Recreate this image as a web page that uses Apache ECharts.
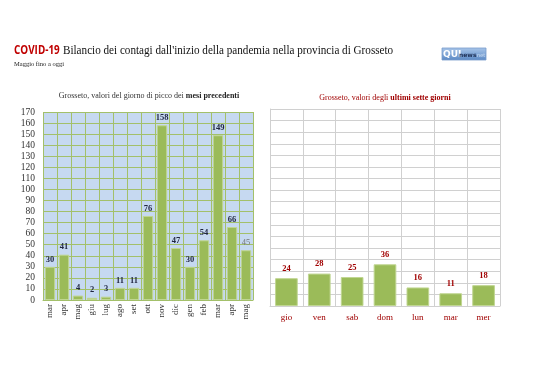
<!DOCTYPE html>
<html><head><meta charset="utf-8">
<script src="https://cdn.jsdelivr.net/npm/echarts@6/dist/echarts.min.js"></script>
<style>html,body{margin:0;padding:0;background:#fff}#c{width:538px;height:380px}</style>
</head><body><div id="c"></div>
<script>
const monthCats = ['mar','apr','mag','giu','lug','ago','set','ott','nov','dic','gen','feb','mar','apr','mag'];
const monthVals = [30,41,4,2,3,11,11,76,158,47,30,54,149,66,45];
const dayCats = ['gio','ven','sab','dom','lun','mar','mer'];
const dayVals = [24,28,25,36,16,11,18];
const yTicks = [0,10,20,30,40,50,60,70,80,90,100,110,120,130,140,150,160,170];

const SERIF = '"Liberation Serif","DejaVu Serif",serif';
const chart = echarts.init(document.getElementById('c'), null, {renderer:'canvas'});
const leftData = monthVals.map((v,i)=> i===monthVals.length-1
  ? {value:v, label:{color:'#777', fontWeight:'normal'}} : v);

chart.setOption({
  backgroundColor:'#fff',
  animation:false,
  graphic:[
    {type:'text', x:14, y:45, scaleX:0.86, style:{text:'COVID-19', font:'bold 11.5px "Open Sans", sans-serif', fill:'#c00000'}},
    {type:'text', x:63, y:43, scaleX:0.825, style:{text:"Bilancio dei contagi dall'inizio della pandemia nella provincia di Grosseto", font:'13.5px '+SERIF, fill:'#111'}},
    {type:'text', x:14, y:61, style:{text:'Maggio fino a oggi', font:'6.5px '+SERIF, fill:'#222'}},
    {type:'rect', z:10, shape:{x:442, y:48, width:44, height:12}, style:{fill:new echarts.graphic.LinearGradient(0,0,0,1,[{offset:0,color:'#a9c6ea'},{offset:1,color:'#5a88c4'}]), stroke:'#7a9ccb', lineWidth:0.8}},
    {type:'text', z:11, x:443, y:50, style:{text:'QUI', verticalAlign:'top', font:'bold 9px "DejaVu Sans", sans-serif', fill:'#fff'}},
    {type:'text', z:11, x:459, y:52, style:{text:'news', verticalAlign:'top', font:'bold 6px "DejaVu Sans", sans-serif', fill:'#1d2f55'}},
    {type:'text', z:11, x:477, y:53, style:{text:'net', verticalAlign:'top', font:'5px "DejaVu Sans", sans-serif', fill:'#d6e4f5'}},
    {type:'text', x:149, y:96, style:{text:'{a|Grosseto, valori del giorno di picco dei }{b|mesi precedenti}', align:'center', verticalAlign:'middle',
      rich:{a:{font:'8px '+SERIF, fill:'#333'}, b:{font:'bold 8px '+SERIF, fill:'#222'}}}},
    {type:'text', x:385, y:98, style:{text:'{a|Grosseto, valori degli }{b|ultimi sette giorni}', align:'center', verticalAlign:'middle',
      rich:{a:{font:'8px '+SERIF, fill:'#a00000'}, b:{font:'bold 8px '+SERIF, fill:'#a00000'}}}}
  ],
  grid:[
    {left:43, top:112, width:210, height:188, show:true, backgroundColor:'#c6d9f1', borderWidth:0},
    {left:270, top:109, width:230, height:197, show:false}
  ],
  xAxis:[
    {type:'category', gridIndex:0, data:monthCats, axisTick:{show:false},
     axisLine:{show:true, lineStyle:{color:'#a3c06a'}},
     axisLabel:{rotate:90, interval:0, margin:4, fontFamily:SERIF, fontSize:9, color:'#333'},
     splitLine:{show:true, interval:0, lineStyle:{color:'#a3c06a', width:1}}},
    {type:'category', gridIndex:1, data:dayCats, axisTick:{show:false},
     axisLine:{show:true, lineStyle:{color:'#d0d0d0'}},
     axisLabel:{interval:0, margin:7, fontFamily:SERIF, fontSize:9, color:'#a00000'},
     splitLine:{show:true, interval:0, lineStyle:{color:'#d0d0d0', width:1}}}
  ],
  yAxis:[
    {type:'value', gridIndex:0, min:yTicks[0], max:yTicks[yTicks.length-1], interval:10,
     axisLine:{show:false}, axisTick:{show:false},
     axisLabel:{fontFamily:SERIF, fontSize:9.5, color:'#333', margin:8},
     splitLine:{show:true, lineStyle:{color:'#a3c06a', width:1}}},
    {type:'value', gridIndex:1, min:yTicks[0], max:yTicks[yTicks.length-1], interval:10,
     axisLine:{show:true, lineStyle:{color:'#d0d0d0'}}, axisTick:{show:false},
     axisLabel:{show:false},
     splitLine:{show:true, lineStyle:{color:'#d0d0d0', width:1}}}
  ],
  series:[
    {type:'bar', xAxisIndex:0, yAxisIndex:0, data:leftData, barCategoryGap:'26%',
     itemStyle:{color:'#9bbb59', borderColor:'#c0d692', borderWidth:1},
     label:{show:true, position:'top', distance:3, fontFamily:SERIF, fontWeight:'bold', fontSize:8.5, color:'#1f2440'}},
    {type:'bar', xAxisIndex:1, yAxisIndex:1, data:dayVals, barCategoryGap:'31%',
     itemStyle:{color:'#9bbb59', borderColor:'#c0d692', borderWidth:1},
     label:{show:true, position:'top', distance:5, fontFamily:SERIF, fontWeight:'bold', fontSize:8.5, color:'#a00000'}}
  ]
});
</script></body></html>
